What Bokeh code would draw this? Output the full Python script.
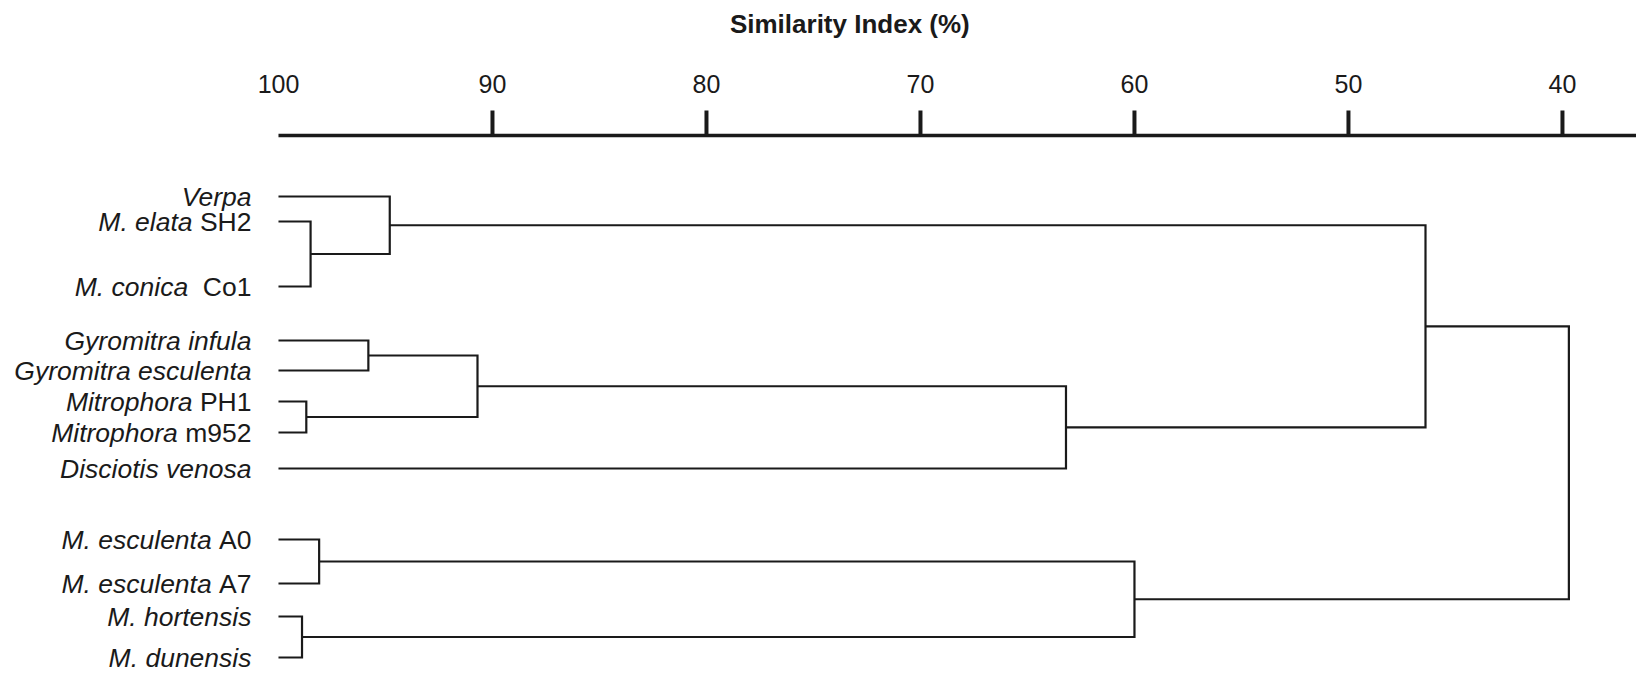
from bokeh.plotting import figure
from bokeh.models import ColumnDataSource, Range1d
from bokeh.core.properties import value
from bokeh.embed import file_html
from bokeh.resources import INLINE

# ---------------- data ----------------
leaf_italic = ["Verpa", "M. elata", "M. conica", "Gyromitra infula",
               "Gyromitra esculenta", "Mitrophora", "Mitrophora",
               "Disciotis venosa", "M. esculenta", "M. esculenta",
               "M. hortensis", "M. dunensis"]
leaf_strain = ["", "SH2", "Co1", "", "", "PH1", "m952", "",
               "A0", "A7", "", ""]
# clusters: node 12+k joins merge_a[k] and merge_b[k] at merge_sim[k] (%)
merge_a = [1, 0, 3, 5, 14, 16, 13, 8, 10, 19, 18]
merge_b = [2, 12, 4, 6, 15, 7, 17, 9, 11, 20, 21]
merge_sim = [98.5, 94.8, 95.8, 98.7, 90.7, 63.2, 46.4, 98.1, 98.9, 60.0, 39.7]
tick_values = [100, 90, 80, 70, 60, 50, 40]
tick_labels = ["100", "90", "80", "70", "60", "50", "40"]
axis_title = "Similarity Index (%)"

# ---------------- layout ----------------
leaf_y = [196, 221, 286, 340, 370, 401, 432, 468, 539, 583, 616, 657]
strain_gap = [0, 1, 2, 0, 0, 1, 1, 0, 1, 1, 0, 0]   # spaces before strain
LEAF_SIM = 100
FONT = "Liberation Sans"
INK = "#1a1a1a"
LABEL_PX = 26.5

# Arial/Liberation Sans advance widths (per 1000 em) for strain text
ADV = {" ": 278, "S": 667, "H": 722, "2": 556, "C": 722, "o": 556, "1": 556,
       "P": 667, "m": 833, "9": 556, "5": 556, "A": 667, "0": 556, "7": 556}

def text_w(s, px):
    return sum(ADV.get(ch, 556) for ch in s) * px / 1000.0

p = figure(width=1636, height=675, output_backend="svg", toolbar_location=None,
           x_range=Range1d(112.99, 36.54), y_range=Range1d(675, 0),
           min_border=0, min_border_left=0, min_border_right=0,
           min_border_top=0, min_border_bottom=0)
p.axis.visible = False
p.grid.visible = False
p.outline_line_color = None
p.background_fill_color = "white"
p.border_fill_color = "white"

# ---- dendrogram ----
n_leaves = len(leaf_italic)
node_x = [LEAF_SIM] * n_leaves
node_y = list(leaf_y)
xs, ys = [], []
for a, b, s in zip(merge_a, merge_b, merge_sim):
    xs.append([node_x[a], s, s, node_x[b]])
    ys.append([node_y[a], node_y[a], node_y[b], node_y[b]])
    node_x.append(s)
    node_y.append((node_y[a] + node_y[b]) / 2.0)

p.multi_line(xs=xs, ys=ys, line_color=INK, line_width=2.2, line_join="miter")

# ---- leaf labels ----
GAP = -27
strain_src = ColumnDataSource(dict(
    x=[LEAF_SIM] * n_leaves, y=leaf_y, t=leaf_strain))
ital_src = ColumnDataSource(dict(
    x=[LEAF_SIM] * n_leaves, y=leaf_y, t=leaf_italic,
    off=[GAP - text_w(s + " " * g if s else "", LABEL_PX)
         for s, g in zip(leaf_strain, strain_gap)]))
p.text(x="x", y="y", text="t", source=strain_src, x_offset=GAP,
       text_align="right", text_baseline="middle",
       text_font=value(FONT), text_font_size=f"{LABEL_PX}px", text_color=INK)
p.text(x="x", y="y", text="t", source=ital_src, x_offset="off",
       text_align="right", text_baseline="middle", text_font_style="italic",
       text_font=value(FONT), text_font_size=f"{LABEL_PX}px", text_color=INK)

# ---- top scale (drawn through the data scale) ----
AXIS_Y = 135
TICK_TOP = 110
p.segment(x0=[LEAF_SIM], y0=[AXIS_Y], x1=[p.x_range.end], y1=[AXIS_Y],
          line_color=INK, line_width=3.5)
tv = [v for v in tick_values if v != LEAF_SIM]
p.segment(x0=tv, y0=[AXIS_Y] * len(tv), x1=tv, y1=[TICK_TOP] * len(tv),
          line_color=INK, line_width=4)
p.text(x=tick_values, y=[83] * len(tick_values), text=tick_labels,
       text_align="center", text_baseline="middle",
       text_font=value(FONT), text_font_size="25px", text_color=INK)
p.text(x=[73.3], y=[23], text=[axis_title], text_align="center",
       text_baseline="middle", text_font=value(FONT), text_font_size="26px",
       text_font_style="bold", text_color=INK)

open("out.html", "w").write(file_html(p, INLINE))
